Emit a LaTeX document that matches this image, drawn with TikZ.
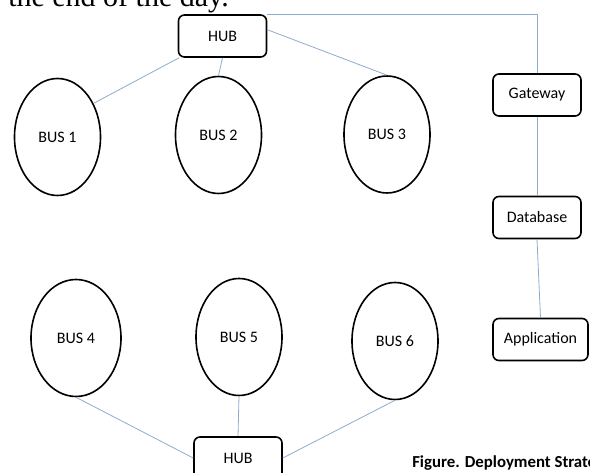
\documentclass[tikz,border=0pt]{standalone}
\usepackage{fontspec}
\setmainfont{Carlito}
\newfontfamily\pagefont{Liberation Serif}
\usepackage{xcolor}
\usepackage{tikz}
\usetikzlibrary{shapes.geometric}
\usetikzlibrary{positioning}
\usetikzlibrary{calc}

\definecolor{linkblue}{RGB}{140,172,205}

\tikzset{
  busnode/.style={ellipse, draw=black, line width=1.2pt, inner sep=0pt,
    minimum width=64.5pt, minimum height=87.75pt, font=\fontsize{12}{14}\selectfont},
  boxnode/.style={rectangle, rounded corners=4.5pt, draw=black, line width=1.2pt,
    inner sep=0pt, minimum width=66pt, minimum height=31.5pt, font=\fontsize{12}{14}\selectfont},
  link/.style={draw=linkblue, line width=0.6pt}
}

\begin{document}
\begin{tikzpicture}[x=0.75pt,y=0.75pt,yscale=-1,xscale=1]
\useasboundingbox (0,0) rectangle (590,473); %page cut of 590 by 473
% Text Node
\node [anchor=base west, inner sep=0pt, font=\pagefont\fontsize{22.5}{26}\selectfont] (pagetext) at (8,7) {the end of the day.};
% Hubs
\node [boxnode] (hubtop) at (222.5,36) {HUB};
\node [boxnode] (hubbot) at (238,458) {HUB};
% Ellipses
\node [busnode] (bus1) at (57.5,137) {BUS 1};
\node [busnode] (bus2) at (218.5,135) {BUS 2};
\node [busnode] (bus3) at (387,134.5) {BUS 3};
\node [busnode, minimum width=67.5pt] (bus4) at (76,338) {BUS 4};
\node [busnode] (bus5) at (239,337) {BUS 5};
\node [busnode] (bus6) at (395,341) {BUS 6};
% Right column
\node [boxnode] (gateway) at (537,95) {Gateway};
\node [boxnode] (database) at (537,217.5) {Database};
\node [boxnode, minimum width=71.25pt] (application) at (540.5,339.5) {Application};
% Text Node
\node [anchor=base west, inner sep=0pt, font=\bfseries\fontsize{12.6}{14}\selectfont] (caption) at (412,468) {Figure. Deployment Strate};
%Straight Lines
\draw [link] ([xshift=1pt]hubtop.south west) -- (bus1.43);
\draw [link] (hubtop.south) -- (bus2.north);
\draw [link] (hubtop.8) -- (bus3.north);
\draw [link] (bus4.south) -- (hubbot.west);
\draw [link] (bus5.south) -- (hubbot.north);
\draw [link] (bus6.south) -- (hubbot.east);
\draw [link] (hubtop.north east) -| (gateway.north);
\draw [link] (gateway.south) -- (database.north);
\draw [link] (database.south) -- (application.north);
\end{tikzpicture}
\end{document}
